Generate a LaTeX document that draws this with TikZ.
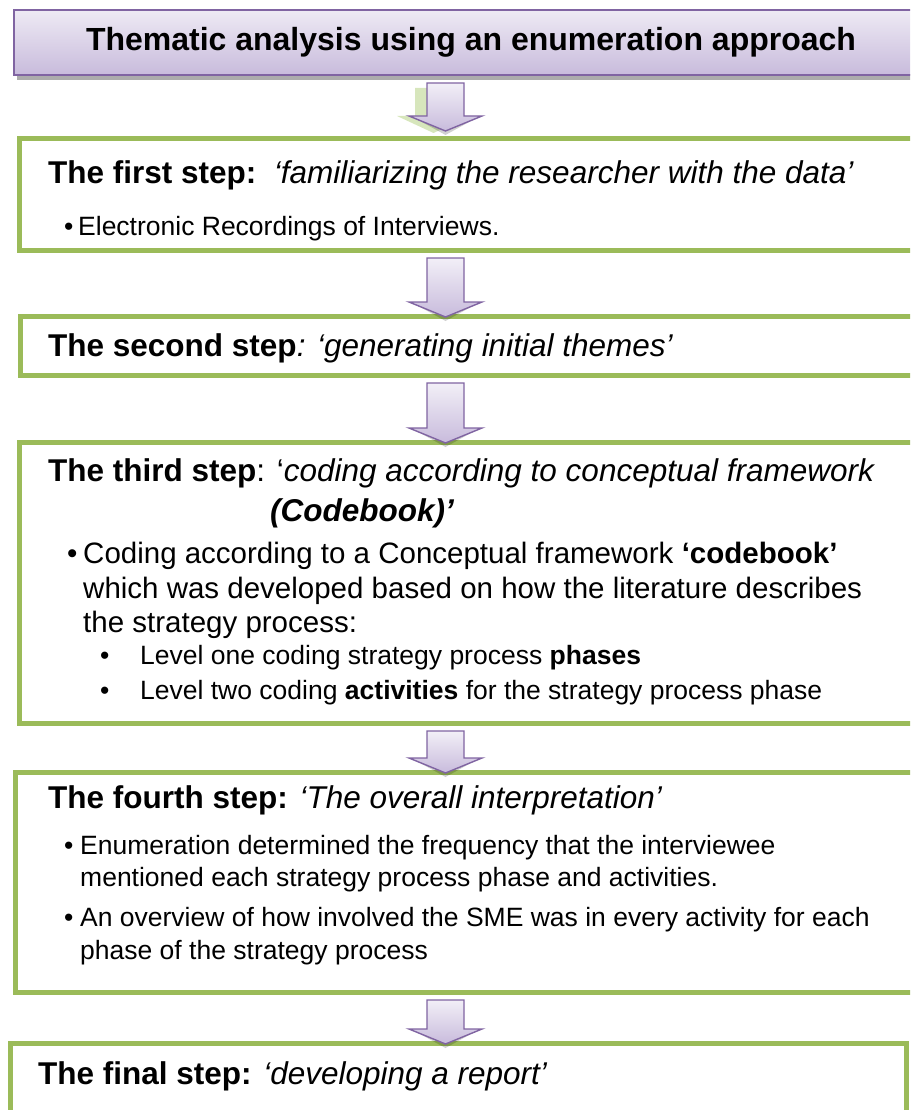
\documentclass[tikz,border=0pt]{standalone}
\usepackage{fontspec}
\setmainfont{Liberation Sans}
\usetikzlibrary{calc}

\definecolor{stepgreen}{HTML}{9BBB59}
\definecolor{framepurple}{HTML}{8064A2}
\definecolor{lilactop}{HTML}{EEEAF4}
\definecolor{lilacbot}{HTML}{C8BBDC}
\definecolor{arrowtop}{HTML}{F2EFF7}
\definecolor{softgreen}{HTML}{D7E6BC}

\tikzset{
  stepbox/.style={draw=stepgreen, line width=5pt, fill=white, inner sep=0pt,
    outer sep=0pt, anchor=north west},
  titlebox/.style={draw=framepurple, line width=2pt, top color=lilactop,
    bottom color=lilacbot, inner sep=0pt, outer sep=0pt, anchor=north west},
  downarrow/.style={draw=framepurple, line width=1.4pt, line join=miter,
    top color=arrowtop, bottom color=lilacbot},
  headtxt/.style={font=\fontsize{31.5}{36}\selectfont, anchor=base west, inner sep=0pt},
  bodytxt/.style={font=\fontsize{26.5}{32}\selectfont, anchor=base west, inner sep=0pt},
  bigtxt/.style={font=\fontsize{29.5}{35}\selectfont, anchor=base west, inner sep=0pt},
}

% block arrow from the bottom of one box down to the top of the next;
% the optional argument lifts the tip above the lower box
\newcommand\flowarrow[3][-1pt]{%
  \fill[black, opacity=0.18] let \p1=(#2.south), \p2=(#3.north) in
    (411pt,\y2+#1+15pt) -- (480pt,\y2+#1+15pt) -- (445.5pt,\y2+#1-4pt) -- cycle;
  \shadedraw[downarrow] let \p1=(#2.south), \p2=(#3.north) in
    (427pt,\y1-8pt) -- (464pt,\y1-8pt) -- (464pt,\y2+#1+15pt) -- (482pt,\y2+#1+15pt)
    -- (445.5pt,\y2+#1) -- (409pt,\y2+#1+15pt) -- (427pt,\y2+#1+15pt) -- cycle;
}

\begin{document}
\begin{tikzpicture}[x=1pt, y=-1pt]
\useasboundingbox (0,0) rectangle (910,1110);
\clip (0,0) rectangle (910,1110);

% title banner with its grey drop shadow
\fill[gray!65] (17,74) rectangle (930,80);
\node[titlebox, minimum width=916pt, minimum height=65pt] (title) at (14,10) {};
\node[anchor=base, inner sep=0pt, font=\fontsize{32}{36}\selectfont\bfseries]
  (titletxt) at (471,51) {Thematic analysis using an enumeration approach};

% step boxes
\node[stepbox, minimum width=910pt, minimum height=111pt] (s1) at (19,139) {};
\node[stepbox, minimum width=910pt, minimum height=59pt]  (s2) at (20,316) {};
\node[stepbox, minimum width=910pt, minimum height=281pt] (s3) at (19,442) {};
\node[stepbox, minimum width=910pt, minimum height=220pt] (s4) at (15,772) {};
\node[stepbox, minimum width=896pt, minimum height=120pt] (s5) at (10.5,1043) {};

% soft green shadow cast by the first arrow, down and to the left
\fill[softgreen] let \p1=(title.south), \p2=(s1.north) in
  (415pt,\y1-13pt) -- (452pt,\y1-13pt) -- (452pt,\y2+23pt) -- (470pt,\y2+23pt)
  -- (433.5pt,\y2+6pt) -- (397pt,\y2+23pt) -- (415pt,\y2+23pt) -- cycle;

% arrows between the steps
\flowarrow[8pt]{title}{s1}
\flowarrow{s1}{s2}
\flowarrow{s2}{s3}
\flowarrow{s3}{s4}
\flowarrow{s4}{s5}

% step 1
\node[headtxt] (h1) at (48,183) {\textbf{The first step:}\ \ \textit{‘familiarizing the researcher with the data’}};
\node[bodytxt] (b1a) at (64,235) {•};
\node[bodytxt] (t1a) at (78,235) {Electronic Recordings of Interviews.};

% step 2
\node[headtxt] (h2) at (48,356) {\textbf{The second step}\textit{: ‘generating initial themes’}};

% step 3
\node[headtxt] (h3) at (48,481) {\textbf{The third step}: ‘\textit{coding according to conceptual framework}};
\node[headtxt] (h3b) at (270,521) {\textbf{\textit{(Codebook)’}}};
\node[bigtxt] (b3a) at (67,563) {•};
\node[bigtxt] (t3a) at (83,563) {Coding according to a Conceptual framework \textbf{‘codebook’}};
\node[bigtxt] (t3b) at (83,598) {which was developed based on how the literature describes};
\node[bigtxt] (t3c) at (83,632) {the strategy process:};
\node[bodytxt] (b3d) at (100,664) {•};
\node[bodytxt] (t3d) at (140,664) {Level one coding strategy process \textbf{phases}};
\node[bodytxt] (b3e) at (100,699) {•};
\node[bodytxt] (t3e) at (140,699) {Level two coding \textbf{activities} for the strategy process phase};

% step 4
\node[headtxt] (h4) at (48,808) {\textbf{The fourth step:} \textit{‘The overall interpretation’}};
\node[bodytxt] (b4a) at (64,854) {•};
\node[bodytxt] (t4a) at (80,854) {Enumeration determined the frequency that the interviewee};
\node[bodytxt] (t4b) at (80,886) {mentioned each strategy process phase and activities.};
\node[bodytxt] (b4c) at (64,926) {•};
\node[bodytxt] (t4c) at (80,926) {An overview of how involved the SME was in every activity for each};
\node[bodytxt] (t4d) at (80,959) {phase of the strategy process};

% final step
\node[headtxt] (h5) at (38,1084) {\textbf{The final step:} \textit{‘developing a report’}};
\end{tikzpicture}
\end{document}
